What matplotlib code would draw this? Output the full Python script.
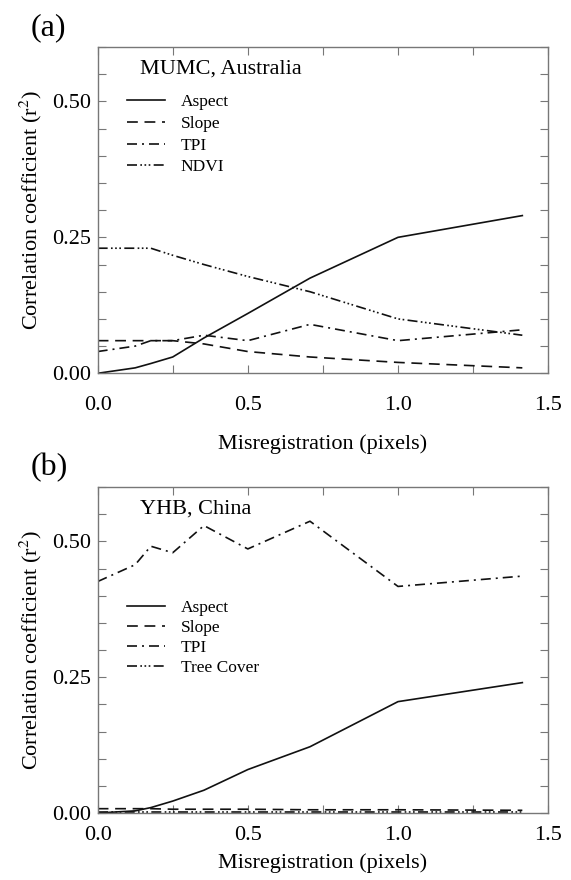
import matplotlib
matplotlib.use('Agg')
import matplotlib.pyplot as plt
from matplotlib.ticker import MultipleLocator

plt.rcParams['font.family'] = ['Liberation Serif', 'DejaVu Serif']
plt.rcParams['mathtext.fontset'] = 'stix'

# misregistration steps (pixels)
shift = [0.0, 0.125, 0.177, 0.25, 0.354, 0.5, 0.707, 1.0, 1.414]

# (a) MUMC, Australia
a_aspect = [0.0, 0.01, 0.018, 0.03, 0.065, 0.11, 0.175, 0.25, 0.29]
a_slope = [0.06, 0.06, 0.06, 0.06, 0.054, 0.04, 0.03, 0.02, 0.01]
a_tpi = [0.04, 0.05, 0.06, 0.06, 0.07, 0.06, 0.09, 0.06, 0.08]
a_ndvi = [0.23, 0.23, 0.23, 0.217, 0.20, 0.178, 0.15, 0.10, 0.07]

# (b) YHB, China
b_aspect = [0.0, 0.004, 0.01, 0.022, 0.042, 0.08, 0.122, 0.205, 0.24]
b_slope = [0.008, 0.008, 0.008, 0.007, 0.007, 0.007, 0.006, 0.006, 0.005]
b_tpi = [0.426, 0.457, 0.491, 0.479, 0.529, 0.486, 0.537, 0.417, 0.436]
b_tree = [0.001, 0.001, 0.001, 0.001, 0.001, 0.001, 0.001, 0.001, 0.001]

styles = ['-', (0, (6.5, 4)), (0, (6, 3, 1.2, 3)),
          (0, (6, 2, 1, 1.5, 1, 1.5, 1, 2))]

fig = plt.figure(figsize=(5.71, 8.8), dpi=100)
ax_a = fig.add_axes([0.171, 0.5758, 0.789, 0.3708])
ax_b = fig.add_axes([0.171, 0.0761, 0.789, 0.3705])


def draw(ax, series, names, site, panel, leg_y, leg_sp, xpad, xlabpad):
    for vals, name, ls in zip(series, names, styles):
        ax.plot(shift, vals, color='#111111', lw=1.2, linestyle=ls, label=name)
    ax.set_xlim(0, 1.5)
    ax.set_ylim(0, 0.6)
    ax.xaxis.set_major_locator(MultipleLocator(0.5))
    ax.xaxis.set_minor_locator(MultipleLocator(0.25))
    ax.yaxis.set_major_locator(MultipleLocator(0.25))
    ax.yaxis.set_minor_locator(MultipleLocator(0.05))
    ax.xaxis.set_major_formatter('{x:.1f}')
    ax.yaxis.set_major_formatter('{x:.2f}')
    ax.tick_params(which='both', direction='in', top=True, right=True,
                   length=6, width=0.8, color='#777777', labelsize=16)
    ax.tick_params(axis='x', pad=xpad)
    ax.tick_params(axis='y', pad=5)
    for s in ax.spines.values():
        s.set_color('#777777')
        s.set_linewidth(1.0)
    ax.set_xlabel('Misregistration (pixels)', fontsize=16, labelpad=xlabpad)
    ax.set_ylabel('Correlation coefficient (r$^{2}$)', fontsize=16)
    ax.yaxis.set_label_coords(-0.12, 0.5)
    ax.text(0.095, 0.933, site, transform=ax.transAxes, fontsize=16,
            va='center', ha='left')
    ax.text(-0.148, 1.06, panel, transform=ax.transAxes, fontsize=23,
            va='center', ha='left')
    ax.legend(loc='upper left', bbox_to_anchor=(0.05, leg_y), frameon=False,
              fontsize=12.5, handlelength=2.2, handletextpad=0.9,
              labelspacing=leg_sp, borderaxespad=0)


draw(ax_a, [a_aspect, a_slope, a_tpi, a_ndvi],
     ['Aspect', 'Slope', 'TPI', 'NDVI'], 'MUMC, Australia', '(a)', 0.877,
     0.32, 16, 14)
draw(ax_b, [b_aspect, b_slope, b_tpi, b_tree],
     ['Aspect', 'Slope', 'TPI', 'Tree Cover'], 'YHB, China', '(b)', 0.675,
     0.22, 9.5, 6)

fig.savefig('out.png', dpi=100)
